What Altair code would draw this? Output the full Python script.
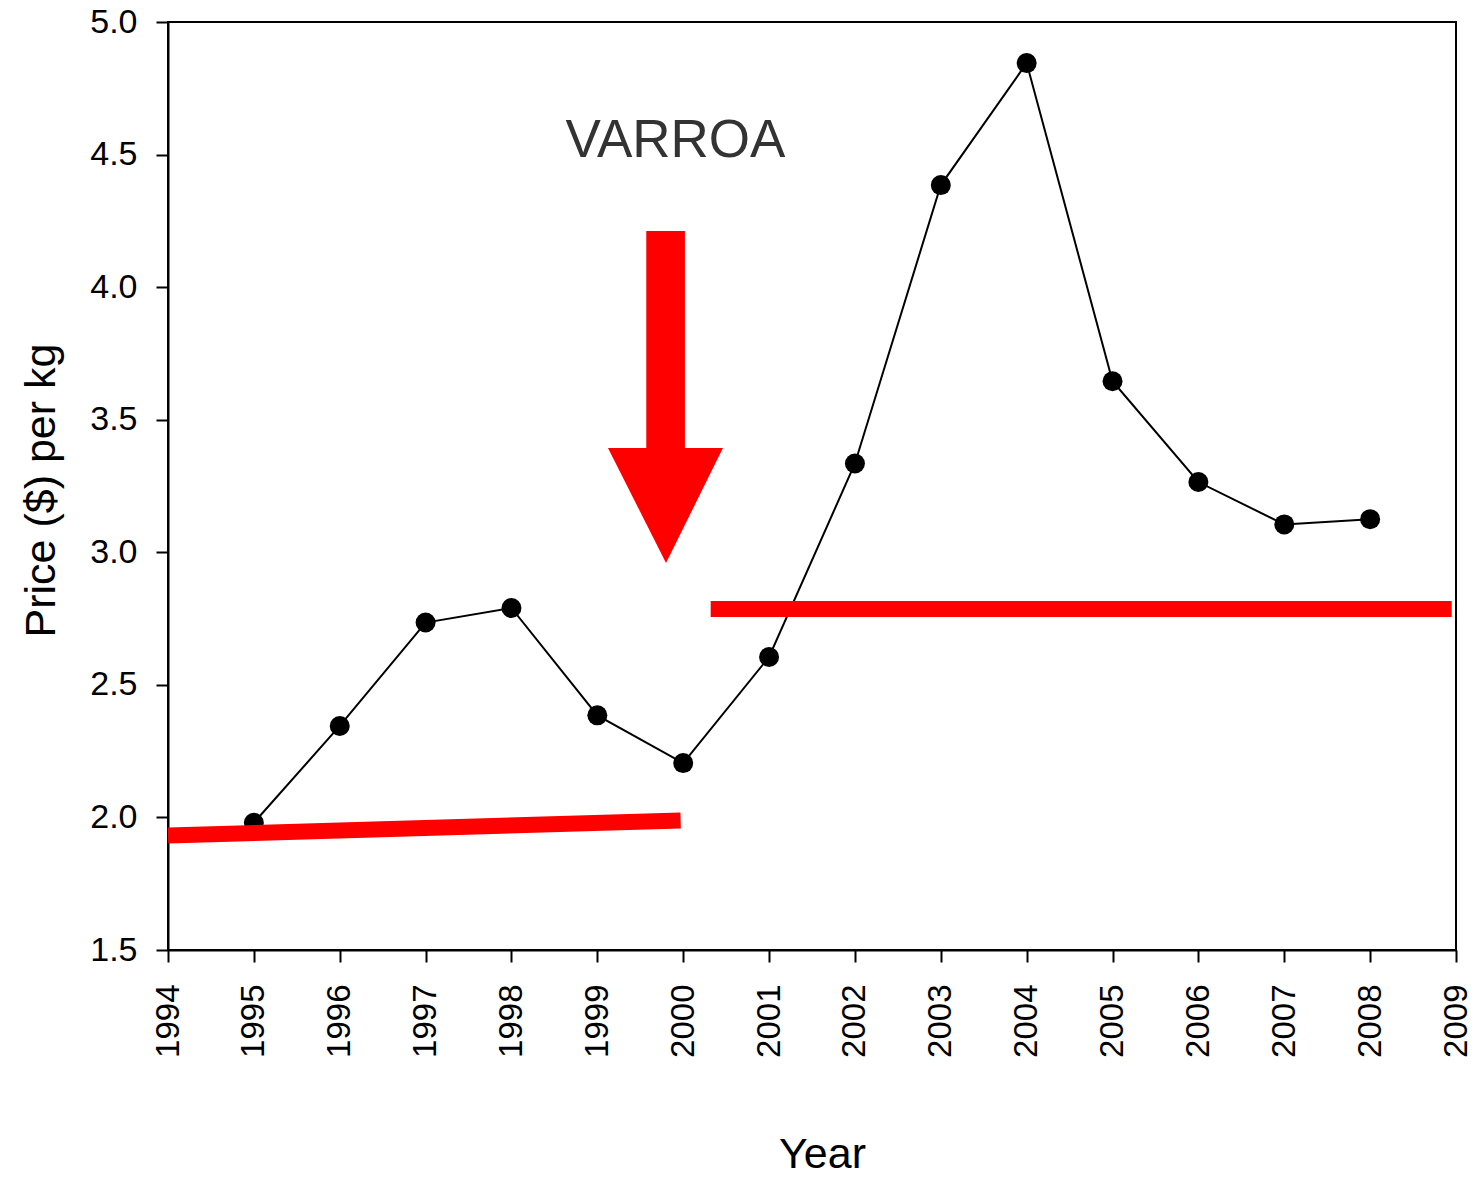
import altair as alt
import pandas as pd

# Data
years = [1995, 1996, 1997, 1998, 1999, 2000, 2001, 2002, 2003, 2004, 2005, 2006, 2007, 2008]
prices = [1.98, 2.345, 2.735, 2.79, 2.385, 2.205, 2.605, 3.335, 4.385, 4.845, 3.645, 3.265, 3.105, 3.125]

# Red trend segments (data coordinates)
trend_x = [1994.0, 2000.32]
trend_x2 = [1999.97, 2008.95]
trend_y = [1.932, 2.786]
trend_y2 = [1.988, 2.786]

# Arrow (data coordinates)
shaft_x = [1999.57]
shaft_x2 = [2000.02]
shaft_y = [4.212]
shaft_y2 = [3.39]
head_x = [1999.124, 1999.80, 2000.463]
head_y = [3.393, 3.393, 3.393]
head_y2 = [3.393, 2.960, 3.393]

label_text = ["VARROA"]
label_x = [1999.91]
label_y = [4.491]

FONT = "Liberation Sans"

df = pd.DataFrame({"year": years, "price": prices})
trend_df = pd.DataFrame({"x": trend_x, "x2": trend_x2, "y": trend_y, "y2": trend_y2})
shaft_df = pd.DataFrame({"x": shaft_x, "x2": shaft_x2, "y": shaft_y, "y2": shaft_y2})
head_df = pd.DataFrame({"x": head_x, "y": head_y, "y2": head_y2})
label_df = pd.DataFrame({"x": label_x, "y": label_y, "t": label_text})

xscale = alt.Scale(domain=[1994, 2009], nice=False, zero=False)
yscale = alt.Scale(domain=[1.5, 5.0], nice=False, zero=False)

xaxis = alt.Axis(
    title="Year", values=list(range(1994, 2010)), format="d",
    labelAngle=-90, labelFontSize=33, labelFont=FONT, labelColor="black",
    labelPadding=22, tickSize=12, tickWidth=2, tickColor="black",
    domainColor="black", domainWidth=2, grid=False,
    titleFontSize=43, titleFont=FONT, titleFontWeight="normal", titleColor="black",
    titleX=654, titleY=217, titleBaseline="alphabetic", titleAlign="center",
    labelFlush=False, labelOverlap=False,
)
yaxis = alt.Axis(
    title="Price ($) per kg", values=[1.5, 2.0, 2.5, 3.0, 3.5, 4.0, 4.5, 5.0], format=".1f",
    labelFontSize=34, labelFont=FONT, labelColor="black", labelPadding=19,
    tickSize=12, tickWidth=2, tickColor="black",
    domainColor="black", domainWidth=2, grid=False,
    titleFontSize=43, titleFont=FONT, titleFontWeight="normal", titleColor="black",
    titleX=-114, titleY=468, titleAngle=-90, titleBaseline="alphabetic", titleAlign="center",
    labelFlush=False, labelOverlap=False,
)

line = alt.Chart(df).mark_line(color="black", strokeWidth=2).encode(
    x=alt.X("year:Q", scale=xscale, axis=xaxis),
    y=alt.Y("price:Q", scale=yscale, axis=yaxis),
)
points = alt.Chart(df).mark_point(filled=True, color="black", size=400, opacity=1).encode(
    x=alt.X("year:Q", scale=xscale),
    y=alt.Y("price:Q", scale=yscale),
)
trend = alt.Chart(trend_df).mark_rule(color="#ff0000", strokeWidth=16, strokeCap="butt").encode(
    x=alt.X("x:Q", scale=xscale), x2="x2:Q",
    y=alt.Y("y:Q", scale=yscale), y2="y2:Q",
)
shaft = alt.Chart(shaft_df).mark_rect(color="#ff0000").encode(
    x=alt.X("x:Q", scale=xscale), x2="x2:Q",
    y=alt.Y("y:Q", scale=yscale), y2="y2:Q",
)
head = alt.Chart(head_df).mark_area(color="#ff0000", opacity=1).encode(
    x=alt.X("x:Q", scale=xscale),
    y=alt.Y("y:Q", scale=yscale), y2="y2:Q",
)
label = alt.Chart(label_df).mark_text(
    font=FONT, fontSize=53, color="#333333", align="center", baseline="alphabetic"
).encode(
    x=alt.X("x:Q", scale=xscale),
    y=alt.Y("y:Q", scale=yscale),
    text="t:N",
)

chart = alt.layer(line, points, trend, shaft, head, label).properties(
    width=1288, height=928,
    autosize=alt.AutoSizeParams(type="none"),
    padding={"left": 160, "top": 14, "right": 15, "bottom": 220},
    background="white",
).configure_view(stroke="black", strokeWidth=2)

chart.save("out.html", embed_options={"renderer": "svg", "actions": False})
